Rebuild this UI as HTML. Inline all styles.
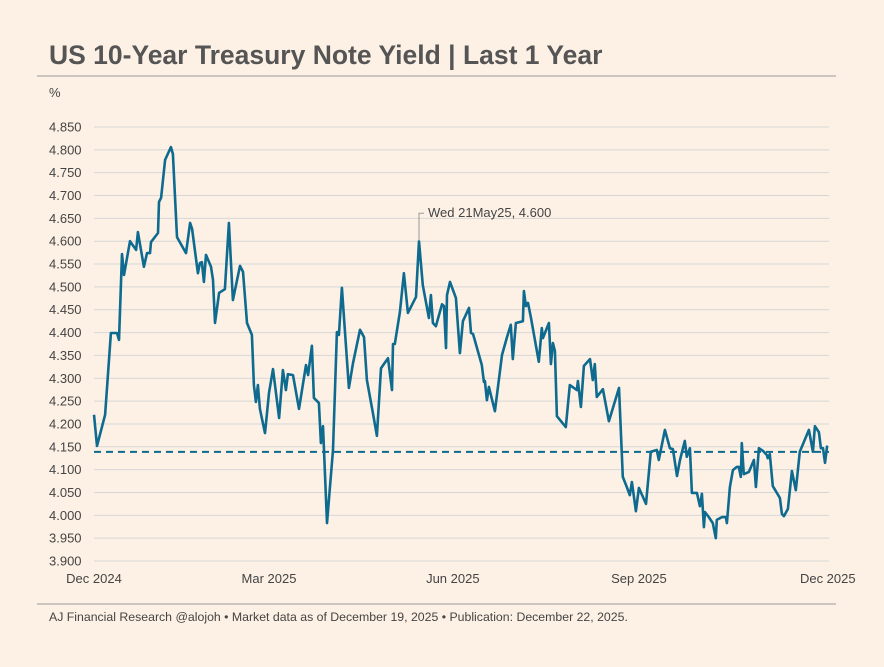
<!DOCTYPE html>
<html><head><meta charset="utf-8"><style>
html,body{margin:0;padding:0;background:#fdf1e5;}
body{width:884px;height:662px;overflow:hidden;font-family:"Liberation Sans",sans-serif;}
</style></head><body>
<svg width="884" height="662" viewBox="0 0 884 662" xmlns="http://www.w3.org/2000/svg">
<rect width="884" height="662" fill="#fdf1e5"/>
<text x="49" y="64" font-size="26.5" font-weight="bold" fill="#555" font-family="Liberation Sans, sans-serif">US 10-Year Treasury Note Yield | Last 1 Year</text>
<line x1="37" y1="76" x2="836" y2="76" stroke="#9a9a9a" stroke-width="1"/>
<text x="49" y="97" font-size="13" fill="#444">%</text>
<g id="grid"></g><g id="ylabels"></g><g id="xlabels"></g>
<line id="avg" stroke="#0e6a8f" stroke-width="2" stroke-dasharray="7,5"/>
<path id="series" fill="none" stroke="#0e6a8f" stroke-width="2.6" stroke-linejoin="round"/>
<g id="annot"></g>
<line x1="37" y1="604" x2="836" y2="604" stroke="#9a9a9a" stroke-width="1"/>
<text x="49" y="621" font-size="12.3" fill="#444">AJ Financial Research @alojoh • Market data as of December 19, 2025 • Publication: December 22, 2025.</text>
</svg>
<script>
const days=[0,1.5,5.5,8.4,11.4,12.4,13.9,14.9,17.9,20.9,21.8,24.8,26.3,27.8,28.3,31.8,32.3,33.3,35.3,38.2,39.2,40.7,41.2,45.7,47.7,48.7,51.6,52.6,53.6,54.6,55.6,58.1,59.1,60.1,62.1,65,67,69,72.5,74,76,78.4,79.4,80.4,81.4,82.4,84.9,86.9,88.9,91.9,93.8,95.3,96.3,98.8,101.8,105.3,106.3,108.2,109.2,111.7,112.7,113.7,115.7,118.7,120.6,121.6,123.1,126.6,128.6,132.1,134.1,135.5,138.5,140.5,142.5,146,148,148.5,149.4,151.9,153.9,155.9,159.9,161.4,163.3,166.3,167.3,168.3,169.8,172.8,173.8,174.8,175.3,176.8,179.7,181.7,183.2,186.2,187.2,188.2,192.6,193.6,194.1,195.1,196.1,199.1,202.6,205.1,207,208,209.5,213,213.5,214.5,215.5,217,220.9,222.4,222.9,225.9,226.9,227.9,228.9,229.9,234.3,236.3,239.8,240.3,241.8,243.3,246.3,247.7,248.7,249.7,252.7,255.7,260.7,262.6,264.6,266.1,267.1,269.1,270.6,274.1,276.5,279.5,280.5,283.5,286,287.5,289.5,291,293.4,294.4,295.9,296.9,299.4,300.9,301.9,302.9,303.4,305.3,307.3,308.8,309.3,311.8,313.8,314.3,315.8,317.3,319.2,320.2,321.2,321.7,322.7,325.2,327.7,328.7,330.2,332.2,334.1,334.6,335.6,337.1,340.6,341.6,342.6,344.6,346.6,348.5,350.5,355,357,358,360,361,362,363,364,364.4];
const yields=[4.220,4.152,4.220,4.399,4.399,4.384,4.572,4.526,4.600,4.581,4.620,4.544,4.574,4.574,4.598,4.618,4.686,4.695,4.778,4.806,4.791,4.653,4.609,4.574,4.640,4.627,4.530,4.552,4.554,4.511,4.570,4.544,4.515,4.421,4.487,4.495,4.640,4.471,4.546,4.533,4.421,4.395,4.285,4.248,4.285,4.233,4.180,4.268,4.320,4.213,4.318,4.274,4.309,4.307,4.233,4.329,4.307,4.371,4.257,4.246,4.158,4.195,3.983,4.143,4.401,4.395,4.498,4.279,4.333,4.406,4.390,4.296,4.224,4.174,4.322,4.344,4.274,4.375,4.375,4.445,4.530,4.443,4.478,4.600,4.504,4.432,4.482,4.421,4.414,4.462,4.458,4.366,4.482,4.511,4.476,4.355,4.425,4.454,4.399,4.397,4.329,4.292,4.294,4.252,4.281,4.228,4.351,4.390,4.417,4.342,4.421,4.425,4.491,4.458,4.465,4.432,4.336,4.410,4.388,4.421,4.331,4.377,4.360,4.217,4.193,4.285,4.274,4.294,4.237,4.327,4.342,4.296,4.331,4.259,4.276,4.206,4.279,4.084,4.062,4.044,4.073,4.009,4.060,4.025,4.139,4.143,4.121,4.187,4.147,4.145,4.086,4.121,4.163,4.128,4.147,4.049,4.049,4.020,4.047,3.974,4.007,3.996,3.983,3.950,3.990,3.996,3.996,3.983,4.062,4.099,4.106,4.106,4.084,4.158,4.090,4.095,4.121,4.062,4.147,4.141,4.132,4.125,4.134,4.064,4.038,4.003,3.998,4.014,4.097,4.055,4.139,4.187,4.139,4.195,4.182,4.147,4.147,4.115,4.150,4.152];
const yTicks=[3.900,3.950,4.000,4.050,4.100,4.150,4.200,4.250,4.300,4.350,4.400,4.450,4.500,4.550,4.600,4.650,4.700,4.750,4.800,4.850];
const xTickLabels=["Dec 2024","Mar 2025","Jun 2025","Sep 2025","Dec 2025"];
const xTickDays=[0,86.9,178.2,270.6,364.4];
const avgYield=4.139;
const annotDay=161.4, annotValue=4.600, annotText="Wed 21May25, 4.600";

const NS="http://www.w3.org/2000/svg";
const X0=94,X1=829,Y0=561,Y1=127;
const xs=d=>X0+d*(X1-X0)/365;
const ys=v=>Y0-(v-3.9)*(Y0-Y1)/0.95;
function mk(t,a){const e=document.createElementNS(NS,t);for(const k in a)e.setAttribute(k,a[k]);return e;}
const grid=document.getElementById('grid'),yl=document.getElementById('ylabels'),xl=document.getElementById('xlabels');
yTicks.forEach(t=>{
  const l=mk('line',{x1:X0,x2:X1,y1:ys(t),y2:ys(t),stroke:'#d6d6d6','stroke-width':1});
  
  
  grid.appendChild(l);
  const tx=mk('text',{x:49,y:ys(t)+4.5,'font-size':13,fill:'#444'});
  tx.textContent=t.toFixed(3);
  
  
  yl.appendChild(tx);
});
xTickLabels.forEach((s,i)=>{
  const tx=mk('text',{x:xs(xTickDays[i]),y:583,'font-size':13,fill:'#444','text-anchor':'middle'});
  tx.textContent=s;
  
  
  xl.appendChild(tx);
});
const av=document.getElementById('avg');
av.setAttribute('x1',X0);av.setAttribute('x2',X1);av.setAttribute('y1',ys(avgYield));av.setAttribute('y2',ys(avgYield));
document.getElementById('series').setAttribute('d',days.map((d,i)=>(i?'L':'M')+xs(d).toFixed(1)+','+ys(yields[i]).toFixed(1)).join(''));
const an=document.getElementById('annot');
const ax=xs(annotDay),ay=ys(annotValue);
const pl=mk('polyline',{points:`${ax},${ay} ${ax},${ay-28} ${ax+5},${ay-28}`,fill:'none',stroke:'#999','stroke-width':1});


an.appendChild(pl);
const at=mk('text',{x:ax+9,y:ay-24,'font-size':13,fill:'#444'});
at.textContent=annotText;


an.appendChild(at);
</script>
</body></html>
